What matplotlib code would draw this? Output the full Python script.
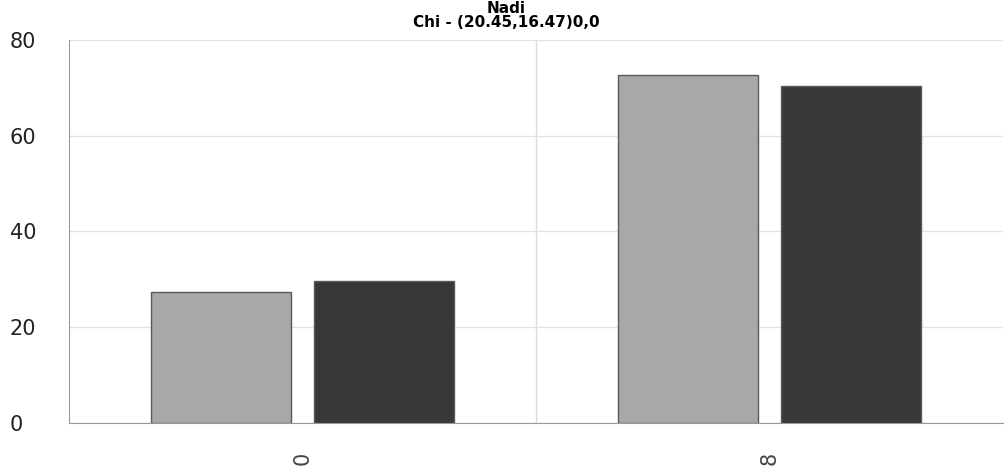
import matplotlib
matplotlib.use("Agg")
import matplotlib.pyplot as plt
from matplotlib.ticker import FixedLocator
import numpy as np

categories = ["0", "8"]
series_a = [27.4, 72.6]
series_b = [29.7, 70.3]
yticks = [0, 20, 40, 60, 80]
title = "Nadi\nChi - (20.45,16.47)0,0"

fig = plt.figure(figsize=(10.06, 4.70), dpi=100)
ax = fig.add_axes([69/1006, 47/470, (1003-69)/1006, (423-40)/470])

x = np.arange(len(categories))
w = 0.3
off = 0.175
ax.bar(x - off, series_a, width=w, color="#a8a8a8", edgecolor="#5a5a5a", linewidth=1, zorder=3)
ax.bar(x + off, series_b, width=w, color="#383838", edgecolor="#5a5a5a", linewidth=1, zorder=3)

ax.set_xlim(-0.5, len(categories) - 0.5)
ax.set_ylim(0, 80)
ax.set_yticks(yticks)
ax.set_yticklabels([str(v) for v in yticks], fontsize=15, ha="left", color="#222222")
ax.tick_params(axis="y", length=0, pad=42.5)
ax.set_xticks(x)
ax.set_xticklabels(categories, rotation=90, fontsize=15, color="#444444")
ax.tick_params(axis="x", length=0, pad=21)
ax.xaxis.set_minor_locator(FixedLocator([0.5]))
ax.tick_params(axis="x", which="minor", length=0)
ax.grid(axis="y", color="#e2e2e2", linewidth=1, zorder=0)
ax.grid(axis="x", which="minor", color="#dcdcdc", linewidth=1, zorder=0)
ax.grid(axis="x", which="major", visible=False)

for s in ["top", "right"]:
    ax.spines[s].set_visible(False)
ax.spines["left"].set_color("#999999")
ax.spines["bottom"].set_color("#999999")

fig.text(0.503, 1 - 1/470, title, ha="center", va="top", fontsize=11, fontweight="bold", linespacing=0.9)

fig.savefig("out.png", dpi=100)
